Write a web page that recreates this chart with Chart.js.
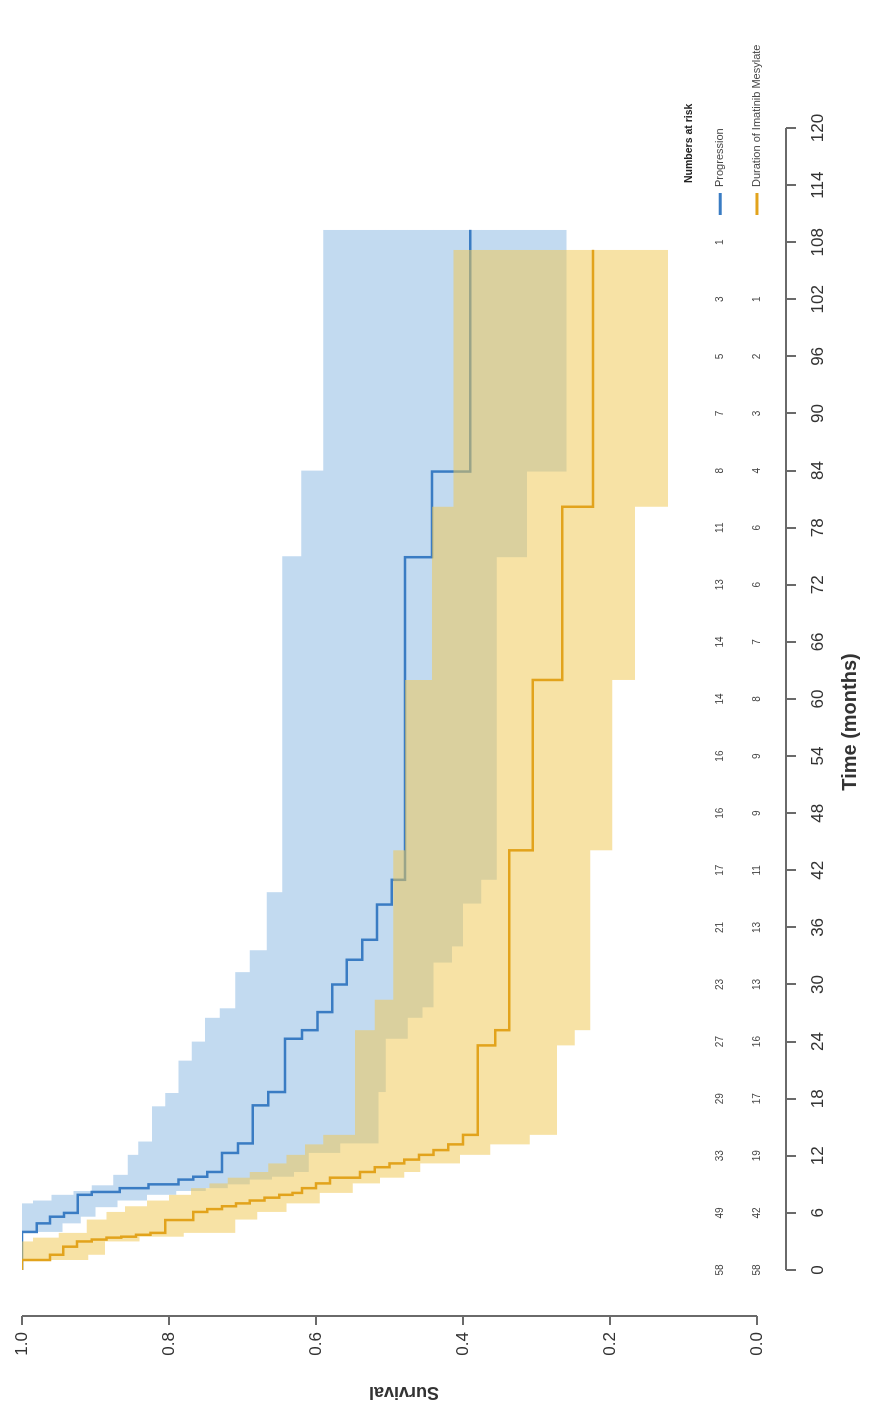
<!DOCTYPE html>
<html>
<head>
<meta charset="utf-8">
<title>Kaplan-Meier</title>
<script src="https://cdn.jsdelivr.net/npm/chart.js@4.4.0/dist/chart.umd.min.js"></script>
<style>
  html, body { margin: 0; padding: 0; background: #fff; overflow: hidden; }
  #wrap { position: relative; width: 885px; height: 1414px; overflow: hidden; }
  /* the figure is drawn landscape and turned a quarter turn to the left */
  #km { position: absolute; left: 0; top: 0; transform-origin: 0 0; transform: translateY(1414px) rotate(-90deg); }
</style>
</head>
<body>
<div id="wrap"><canvas id="km" width="1414" height="885"></canvas></div>
<script>
// --- data: [time in months, survival] at each step ---
const progCurve = [[0,1],[4.0,0.98],[4.9,0.962],[5.6,0.943],[6.0,0.924],[7.9,0.905],[8.2,0.867],[8.6,0.828],
  [9.0,0.787],[9.5,0.767],[9.8,0.748],[10.3,0.728],[12.3,0.706],[13.3,0.686],[17.3,0.665],[18.7,0.642],
  [24.3,0.619],[25.2,0.598],[27.1,0.578],[30.0,0.558],[32.6,0.537],[34.7,0.517],[38.4,0.497],[41.0,0.479],
  [74.9,0.442],[83.9,0.39],[109.3,0.39]];
const progUpper = [[0,1],[7.0,0.985],[7.3,0.96],[7.9,0.93],[8.3,0.905],[8.9,0.876],[10.0,0.856],[12.1,0.842],
  [13.5,0.823],[17.2,0.805],[18.6,0.787],[22.0,0.769],[24.0,0.751],[26.5,0.731],[27.5,0.71],[31.3,0.69],
  [33.6,0.667],[39.7,0.646],[75.0,0.62],[84.0,0.59],[109.3,0.59]];
const progLower = [[0,1],[4.0,0.945],[4.9,0.92],[5.6,0.9],[6.6,0.87],[7.3,0.83],[7.9,0.79],[8.3,0.75],
  [8.6,0.72],[9.0,0.69],[9.5,0.66],[9.8,0.63],[10.3,0.61],[12.3,0.567],[13.3,0.515],[18.7,0.505],
  [24.3,0.475],[26.5,0.455],[27.6,0.44],[32.3,0.415],[34.0,0.4],[38.5,0.375],[41.0,0.354],
  [74.9,0.313],[83.9,0.259],[109.3,0.259]];

const imaCurve = [[0,1],[1.05,0.962],[1.6,0.944],[2.45,0.925],[3.0,0.905],[3.2,0.885],[3.4,0.865],[3.5,0.845],
  [3.7,0.825],[3.9,0.805],[5.25,0.767],[6.1,0.748],[6.4,0.728],[6.7,0.709],[7.0,0.69],[7.3,0.67],[7.6,0.65],
  [7.9,0.632],[8.1,0.619],[8.6,0.6],[9.1,0.581],[9.7,0.54],[10.3,0.52],[10.8,0.5],[11.2,0.48],[11.6,0.46],
  [12.1,0.44],[12.6,0.42],[13.2,0.4],[14.2,0.38],[23.6,0.356],[25.2,0.337],[44.1,0.305],[62.0,0.265],
  [80.2,0.223],[107.2,0.223]];
const imaUpper = [[0,1],[3.0,0.985],[3.4,0.95],[3.9,0.912],[5.3,0.885],[6.1,0.86],[6.7,0.83],[7.3,0.8],
  [7.9,0.77],[8.6,0.745],[9.1,0.72],[9.7,0.69],[10.3,0.665],[11.2,0.64],[12.1,0.615],[13.2,0.59],
  [14.2,0.547],[25.2,0.52],[28.4,0.495],[44.1,0.479],[62.0,0.442],[80.2,0.413],[107.2,0.413]];
const imaLower = [[0,1],[1.05,0.91],[1.6,0.887],[3.0,0.84],[3.5,0.78],[3.9,0.71],[5.3,0.68],[6.1,0.64],
  [7.0,0.595],[8.1,0.55],[9.1,0.513],[9.7,0.48],[10.3,0.458],[11.2,0.404],[12.1,0.363],[13.2,0.309],
  [14.2,0.272],[23.6,0.248],[25.2,0.227],[44.1,0.197],[62.0,0.166],[80.2,0.121],[107.2,0.121]];

// numbers at risk
const riskTimes = [0,6,12,18,24,30,36,42,48,54,60,66,72,78,84,90,96,102,108];
const progRisk = [58,49,33,29,27,23,21,17,16,16,14,14,13,11,8,7,5,3,1];
const imaRisk  = [58,42,19,17,16,13,13,11,9,9,8,7,6,6,4,3,2,1,null];

const timeTicks = [0,6,12,18,24,30,36,42,48,54,60,66,72,78,84,90,96,102,108,114,120];
const survTicks = [0,0.2,0.4,0.6,0.8,1.0];

const blue = '#3a7cc3';
const gold = '#e2a31c';
const axisColor = '#6a6a6a';
const fontFam = '"Liberation Sans", Arial, sans-serif';

const pts = arr => arr.map(([t, s]) => ({ x: t, y: s }));

// axis lines, numbers at risk and the small legend
const extras = {
  id: 'extras',
  afterDraw(chart) {
    const { ctx, chartArea, scales: { x, y } } = chart;
    ctx.save();
    ctx.strokeStyle = axisColor;
    ctx.lineWidth = 2;
    ctx.beginPath();
    ctx.moveTo(chartArea.left, y.getPixelForValue(1));
    ctx.lineTo(chartArea.left, y.getPixelForValue(0));
    ctx.moveTo(x.getPixelForValue(0), chartArea.bottom);
    ctx.lineTo(x.getPixelForValue(120), chartArea.bottom);
    ctx.stroke();

    ctx.fillStyle = '#444';
    ctx.font = '10px ' + fontFam;
    ctx.textAlign = 'center';
    ctx.textBaseline = 'middle';
    const row1 = y.getPixelForValue(0.05), row2 = y.getPixelForValue(0);
    riskTimes.forEach((t, i) => {
      const px = x.getPixelForValue(t);
      if (progRisk[i] != null) ctx.fillText(progRisk[i], px, row1);
      if (imaRisk[i] != null) ctx.fillText(imaRisk[i], px, row2);
    });

    // legend
    const lx = chartArea.right - 87;
    ctx.textAlign = 'left';
    ctx.fillStyle = '#222';
    ctx.font = 'bold 10.5px ' + fontFam;
    ctx.fillText('Numbers at risk', lx + 32, y.getPixelForValue(0.093));
    ctx.font = '11px ' + fontFam;
    ctx.fillStyle = '#444';
    ctx.fillText('Progression', lx + 28, row1);
    ctx.fillText('Duration of Imatinib Mesylate', lx + 28, row2);
    ctx.lineWidth = 3;
    ctx.strokeStyle = blue;
    ctx.beginPath(); ctx.moveTo(lx, row1); ctx.lineTo(lx + 22, row1); ctx.stroke();
    ctx.strokeStyle = gold;
    ctx.beginPath(); ctx.moveTo(lx, row2); ctx.lineTo(lx + 22, row2); ctx.stroke();
    ctx.restore();
  }
};

// survival holds until the next event: horizontal run first, then the drop
const band = { borderWidth: 0, pointRadius: 0, stepped: 'before' };

new Chart(document.getElementById('km'), {
  type: 'line',
  data: {
    datasets: [
      { ...band, label: 'prog upper', data: pts(progUpper), fill: false, order: 6 },
      { ...band, label: 'prog lower', data: pts(progLower), fill: 0, backgroundColor: 'rgba(90,155,214,0.37)', order: 5 },
      { label: 'Progression', data: pts(progCurve), stepped: 'before', borderColor: blue, borderWidth: 2.5, pointRadius: 0, fill: false, order: 4 },
      { ...band, label: 'ima upper', data: pts(imaUpper), fill: false, order: 3 },
      { ...band, label: 'ima lower', data: pts(imaLower), fill: 3, backgroundColor: 'rgba(240,200,85,0.53)', order: 2 },
      { label: 'Duration of Imatinib Mesylate', data: pts(imaCurve), stepped: 'before', borderColor: gold, borderWidth: 2.5, pointRadius: 0, fill: false, order: 1 }
    ]
  },
  options: {
    responsive: false,
    animation: false,
    devicePixelRatio: 1,
    layout: { padding: { top: 22, right: 128, bottom: 0, left: 0 } },
    plugins: { legend: { display: false }, tooltip: { enabled: false } },
    scales: {
      x: {
        type: 'linear',
        min: -4.834,
        max: 120,
        afterBuildTicks: s => { s.ticks = timeTicks.map(v => ({ value: v })); },
        afterFit: s => { s.height = 99; },
        grid: { drawOnChartArea: false, drawTicks: true, tickLength: 10, color: axisColor, lineWidth: 2 },
        border: { display: false },
        ticks: { autoSkip: false, maxRotation: 0, padding: 12, color: '#333', font: { family: fontFam, size: 17 }, callback: v => String(v) },
        title: { display: true, text: 'Time (months)', color: '#333', font: { family: fontFam, size: 20, weight: 'bold' }, padding: { top: 0, bottom: 23 } }
      },
      y: {
        min: -0.0395,
        max: 1.0,
        afterBuildTicks: s => { s.ticks = survTicks.map(v => ({ value: v })); },
        afterFit: s => { s.width = 98; },
        grid: { drawOnChartArea: false, drawTicks: true, tickLength: 9, color: axisColor, lineWidth: 2 },
        border: { display: false },
        ticks: { padding: 7, color: '#333', font: { family: fontFam, size: 17 }, callback: v => v.toFixed(1) },
        title: { display: true, text: 'Survival', color: '#333', font: { family: fontFam, size: 18, weight: 'bold' }, padding: { top: 11, bottom: 0 } }
      }
    }
  },
  plugins: [extras]
});
</script>
</body>
</html>
